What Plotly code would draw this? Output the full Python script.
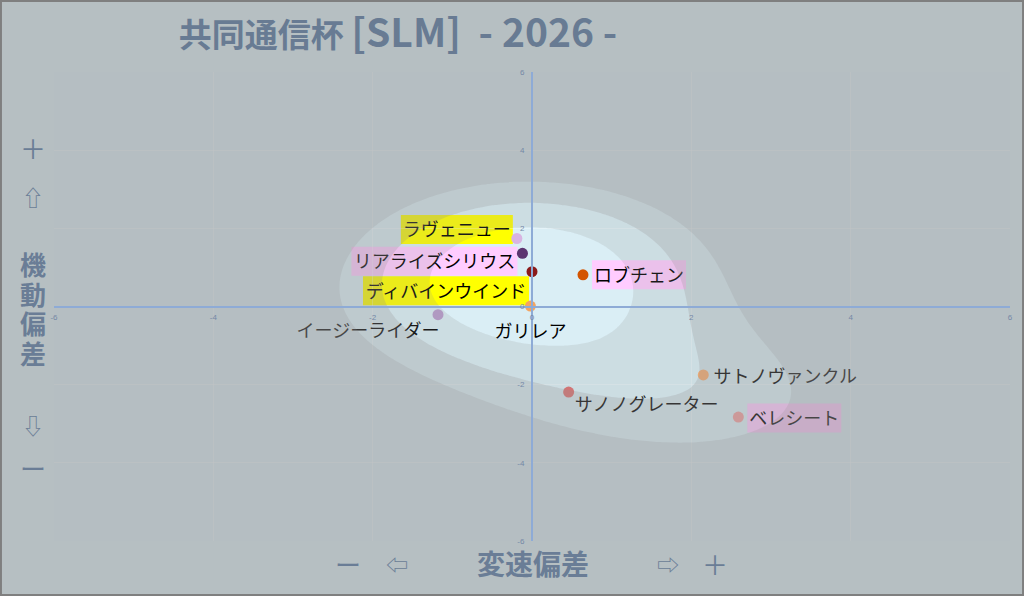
import numpy as np
import plotly.graph_objects as go

# --- data ---
names = ["ラヴェニュー", "リアライズシリウス", "ディバインウインド", "ロブチェン", "ガリレア",
         "イージーライダー", "サトノヴァンクル", "サノノグレーター", "ベレシート"]
speed_dev = [-0.19, -0.12, 0.00, 0.64, -0.02, -1.18, 2.15, 0.46, 2.59]     # 変速偏差 (x)
agility_dev = [1.74, 1.36, 0.89, 0.81, 0.01, -0.21, -1.75, -2.19, -2.83]   # 機動偏差 (y)
dot_colors = ["#d8b4e2", "#5b3470", "#8b1a1a", "#d35400", "#f4a460",
              "#b89ccc", "#ffb070", "#e07070", "#f0a0a0"]
label_bg = ["#ffff00", "#ffccff", "#ffff00", "#ffccff", None, None, None, None, "#ffccff"]
tick_vals = [-6, -4, -2, 0, 2, 4, 6]
tick_text = ["-6", "-4", "-2", "0", "2", "4", "6"]

# label centre offset from its dot, in px (+dy = down)
label_dx = [-60, -88, -86, 56, 0, -70, 82, 78, 56]
label_dy = [-9, 8, 19, 0, 25, 15, 1, 12, 1]

# --- layout geometry ---
W, H = 1024, 596
L, R, T, B = 54, 14, 72, 55
PW, PH = W - L - R, H - T - B
XU, YU = PW / 12, PH / 12

def pxx(px):
    return (px - L) / PW

def pxy(py):
    return (T + PH - py) / PH

# fog over the field: density of the dots, thinner where the field is dense
gx = np.linspace(-6, 6, 181)
gy = np.linspace(-6, 6, 181)
GX, GY = np.meshgrid(gx, gy)
bw = 1.5
dens = np.zeros_like(GX)
for a, b in zip(speed_dev, agility_dev):
    dens += np.exp(-((GX - a) ** 2 + (GY - b) ** 2) / (2 * bw ** 2))
dens /= dens.max()

under = np.array([218, 238, 245])
fog = np.array([146, 143, 142])
fog_levels = [0.34, 0.52, 0.74]
fog_alphas = [0.19, 0.24, 0.18]
total = 1 - np.prod([1 - a for a in fog_alphas])
paper = tuple(int(round(v)) for v in fog * total + under * (1 - total))

fig = go.Figure()

for lv, a in zip(fog_levels, fog_alphas):
    fig.add_trace(go.Contour(
        x=gx, y=gy, z=dens, xaxis="x2", yaxis="y2",
        contours=dict(type="constraint", operation=">", value=lv),
        fillcolor=f"rgba(146,143,142,{a})", line=dict(width=0, smoothing=1.0),
        showscale=False, hoverinfo="skip"))

fig.add_trace(go.Scatter(
    x=speed_dev, y=agility_dev, mode="markers", text=names, hoverinfo="text",
    marker=dict(size=11, color=dot_colors, line=dict(width=0))))

tx = [x + dx / XU for x, dx in zip(speed_dev, label_dx)]
ty = [y - (dy + 2.3) / YU for y, dy in zip(agility_dev, label_dy)]
fig.add_trace(go.Scatter(
    x=tx, y=ty, mode="text", text=names, textposition="middle center", hoverinfo="skip",
    textfont=dict(family="Noto Sans CJK JP", size=18, color="#000000")))

# label backgrounds sit under the fog as well
for x, y, name, bg, dx, dy in zip(speed_dev, agility_dev, names, label_bg, label_dx, label_dy):
    if bg is None:
        continue
    w = len(name) * 18 + 4
    fig.add_shape(type="rect", xref="x", yref="y", xsizemode="pixel", ysizemode="pixel",
                  xanchor=x, yanchor=y, x0=dx - w / 2, x1=dx + w / 2,
                  y0=-dy - 14.5, y1=-dy + 14.5, fillcolor=bg, line_width=0, layer="below")

# frame round the picture
fig.add_shape(type="rect", xref="paper", yref="paper",
              x0=-L / PW + 0.001, x1=1 + R / PW - 0.001, y0=-B / PH + 0.002, y1=1 + T / PH - 0.002,
              line=dict(color="#7f7f7f", width=2), fillcolor="rgba(0,0,0,0)", layer="above")

axis_common = dict(
    range=[-6, 6], tickvals=tick_vals, ticktext=tick_text, showgrid=True,
    gridcolor="rgba(255,255,255,0.3)", gridwidth=1, zeroline=False,
    showline=True, linecolor="#8eabd6", linewidth=2, ticks="",
    tickfont=dict(family="Liberation Sans", size=8, color="#7488a6"),
    anchor="free", position=0.5, domain=[0, 1], fixedrange=True)

axis_col = "#6a7d96"
ann = []
left_items = [("＋", 147, 26, 400), ("⇧", 196, 22, 400), ("機", 263, 26, 700), ("動", 293, 26, 700),
              ("偏", 322, 26, 700), ("差", 352, 26, 700), ("⇩", 424, 22, 400), ("ー", 467, 26, 400)]
for txt, py, sz, wt in left_items:
    ann.append(dict(text=txt, xref="paper", yref="paper", x=pxx(33), y=pxy(py), showarrow=False,
                    xanchor="center", yanchor="middle",
                    font=dict(family="Noto Sans CJK JP", size=sz, color=axis_col, weight=wt)))
bottom_items = [("ー", 348, 26, 400), ("⇦", 397, 22, 400), ("変速偏差", 533, 28, 700),
                ("⇨", 668, 22, 400), ("＋", 715, 26, 400)]
for txt, px, sz, wt in bottom_items:
    ann.append(dict(text=txt, xref="paper", yref="paper", x=pxx(px), y=pxy(563), showarrow=False,
                    xanchor="center", yanchor="middle",
                    font=dict(family="Noto Sans CJK JP", size=sz, color=axis_col, weight=wt)))

title_txt = ("共同通信杯 <span style=\"font-size:39px\">[SLM]\u00a0\u00a0- 2026 -</span>")

fig.update_layout(
    width=W, height=H, margin=dict(l=L, r=R, t=T, b=B),
    paper_bgcolor="rgb(%d,%d,%d)" % paper, plot_bgcolor="#daeef5",
    showlegend=False,
    title=dict(text=title_txt, xref="container", yref="container",
               x=398 / W, y=1 - 35 / H, xanchor="center", yanchor="middle",
               font=dict(family="Noto Sans CJK JP", size=33, color="#687b93", weight=700)),
    xaxis=dict(axis_common, ticklabelstandoff=3),
    yaxis=dict(axis_common, ticklabelstandoff=5),
    xaxis2=dict(range=[-6, 6], overlaying="x", anchor="y2", visible=False, fixedrange=True),
    yaxis2=dict(range=[-6, 6], overlaying="y", anchor="x2", visible=False, fixedrange=True),
    annotations=ann,
)

# page has no margin round the figure
fig.write_html("out.html", config={"displayModeBar": False},
               post_script="document.body.style.margin='0';")
